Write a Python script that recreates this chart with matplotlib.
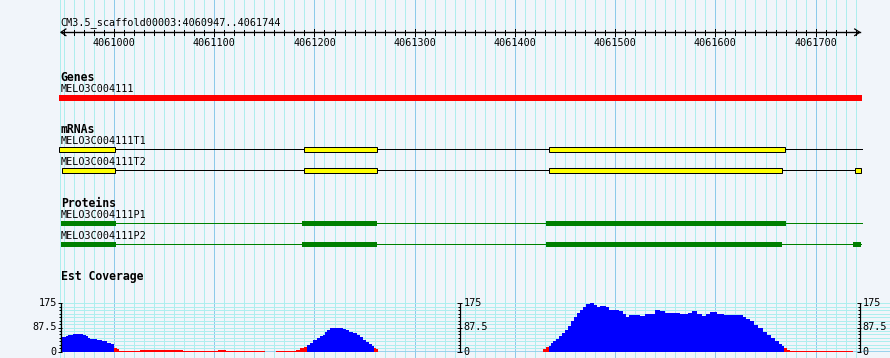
import matplotlib
matplotlib.use("Agg")
import matplotlib.pyplot as plt
from matplotlib.patches import Rectangle
import numpy as np

# ---- data ----
ref_name = "CM3.5_scaffold00003"
view_start, view_end = 4060947, 4061744
ruler_labels = [4061000, 4061100, 4061200, 4061300, 4061400, 4061500, 4061600, 4061700]

gene_name = "MELO3C004111"
gene_span = (4060945, 4061746)

mrna_names = ["MELO3C004111T1", "MELO3C004111T2"]
mrna_spans = [(4060945, 4061746), (4060948, 4061745)]
mrna_exons = [
    [(4060945, 4061001), (4061190, 4061262), (4061434, 4061669)],
    [(4060948, 4061001), (4061190, 4061262), (4061434, 4061666), (4061739, 4061745)],
]

protein_names = ["MELO3C004111P1", "MELO3C004111P2"]
protein_spans = [(4060947, 4061746), (4060947, 4061745)]
protein_cds = [
    [(4060947, 4061002), (4061188, 4061262), (4061431, 4061670)],
    [(4060947, 4061002), (4061188, 4061262), (4061431, 4061666), (4061737, 4061745)],
]

# est coverage, step edges and values (0 = no data)
cov_edges = [4060947, 4060952, 4060954, 4060959, 4060969, 4060972, 4060974, 4060976,
             4060983, 4060988, 4060993, 4060997, 4061000, 4061003, 4061005, 4061026,
             4061069, 4061104, 4061112, 4061151, 4061162, 4061182, 4061186, 4061190,
             4061193, 4061196, 4061199, 4061203, 4061206, 4061209, 4061211, 4061213,
             4061216, 4061219, 4061228, 4061231, 4061234, 4061238, 4061242, 4061245,
             4061248, 4061251, 4061254, 4061257, 4061259, 4061261, 4061263,
             4061428, 4061431, 4061434, 4061436, 4061438, 4061441, 4061444, 4061447,
             4061450, 4061453, 4061456, 4061459, 4061462, 4061465, 4061468, 4061471,
             4061475, 4061479, 4061482, 4061485, 4061488, 4061491, 4061494, 4061499,
             4061504, 4061508, 4061511, 4061514, 4061519, 4061525, 4061530, 4061536,
             4061540, 4061545, 4061550, 4061557, 4061565, 4061573, 4061577, 4061582,
             4061587, 4061591, 4061595, 4061602, 4061609, 4061616, 4061623, 4061628,
             4061631, 4061635, 4061639, 4061643, 4061647, 4061651, 4061655, 4061659,
             4061663, 4061666, 4061668, 4061671, 4061674, 4061737]
cov_vals = [52, 58, 61, 64, 61, 55, 49, 45, 42, 37, 33, 29, 14, 10, 4, 7, 4, 7, 4, 0,
            4, 7, 13, 18,
            26, 32, 42, 48, 55, 62, 71, 80, 84, 86, 82, 77, 72, 67, 60, 52, 44, 36,
            28, 22, 12, 8,
            0,
            8, 16, 22, 30, 38, 46, 56, 66, 77, 92, 110, 125, 140, 152, 162, 172, 175,
            169, 161, 164, 166, 160, 152, 151, 146, 138, 126, 133, 134, 129, 136, 137,
            149, 146, 141, 140, 136, 140, 146, 138, 130, 136, 143, 138, 134, 131, 133,
            125, 118, 111, 98, 86, 72, 60, 48, 38, 28, 21, 12, 6, 3]
cov_max = 175
cov_low = 20

# ---- style ----
bg = "#F1F5FA"
grid_minor = "#AEEEEE"
grid_major = "#8CCBEA"
px = 0.72  # one pixel line width at 100 dpi
mono = "DejaVu Sans Mono"
fs = 7.3
fsb = 8.3

fig = plt.figure(figsize=(8.9, 3.58), dpi=100, facecolor=bg)
ax = fig.add_axes([0, 0, 1, 1])
ax.set_facecolor(bg)
xl = (4060886.27, 4061774.2)
ax.set_xlim(xl)
ax.set_ylim(358, 0)
ax.axis("off")

# vertical grid
ax.axvline(view_start - 1, color=grid_minor, lw=px, zorder=0)
for g in range(4060950, view_end + 1, 10):
    ax.axvline(g, color=grid_major if g % 100 == 0 else grid_minor, lw=px, zorder=0)

# ruler
ry = 32.3
ax.plot([view_start, view_end], [ry, ry], color="black", lw=1.0)
ax.plot([view_start + 5, view_start, view_start + 5], [ry - 3.3, ry, ry + 3.3], color="black", lw=0.9)
ax.plot([view_end - 5, view_end, view_end - 5], [ry - 3.3, ry, ry + 3.3], color="black", lw=0.9)
for g in range(4060950, view_end + 1, 10):
    if g % 100 == 0:
        ax.plot([g, g], [ry - 3.5, ry + 4], color="black", lw=px)
    else:
        ax.plot([g, g], [ry - 2.5, ry + 2.5], color="black", lw=px)
for g in ruler_labels:
    ax.text(g, 46.3, str(g), ha="center", va="baseline", fontsize=fs, family=mono)
ax.text(view_start, 24.8, f"{ref_name}:{view_start}..{view_end}", ha="left",
        va="baseline", fontsize=fs, family=mono)

# genes
ax.text(view_start, 80.8, "Genes", fontsize=fsb, weight="bold", family=mono, va="baseline")
ax.text(view_start, 92.3, gene_name, fontsize=fs, family=mono, va="baseline")
ax.add_patch(Rectangle((gene_span[0], 95), gene_span[1] - gene_span[0], 5.8,
                       facecolor="#FF0000", edgecolor="none", zorder=3))

# mRNAs
ax.text(view_start, 132.7, "mRNAs", fontsize=fsb, weight="bold", family=mono, va="baseline")
for name, span, exons, ly, yl in zip(mrna_names, mrna_spans, mrna_exons, [149.3, 170.3], [144.3, 165.0]):
    ax.text(view_start, yl, name, fontsize=fs, family=mono, va="baseline")
    ax.plot(span, [ly, ly], color="black", lw=px, zorder=2)
    for s, e in exons:
        ax.add_patch(Rectangle((s, ly - 2.3), e - s, 4.6, facecolor="#FFFF00",
                               edgecolor="black", lw=px, zorder=3))

# proteins
ax.text(view_start, 206.7, "Proteins", fontsize=fsb, weight="bold", family=mono, va="baseline")
for name, span, cds, ly, yl in zip(protein_names, protein_spans, protein_cds, [223.3, 244.3], [218.3, 239.3]):
    ax.text(view_start, yl, name, fontsize=fs, family=mono, va="baseline")
    ax.plot(span, [ly, ly], color="#008000", lw=px, zorder=2)
    for s, e in cds:
        ax.add_patch(Rectangle((s, ly - 2.8), e - s, 5.8, facecolor="#008000",
                               edgecolor="none", zorder=3))

# est coverage
ax.text(view_start, 280.0, "Est Coverage", fontsize=fsb, weight="bold", family=mono, va="baseline")

cx = fig.add_axes([0, 6.3 / 358, 1, 48.4 / 358])
cx.set_xlim(xl)
cx.set_ylim(0, cov_max)
cx.axis("off")
cx.patch.set_alpha(0)
for v in np.arange(12.5, cov_max + 0.1, 12.5):
    cx.hlines(v, view_start, xl[1], color=grid_minor, lw=px, zorder=1)
cx.hlines(0, view_start, xl[1], color=grid_major, lw=1.2, zorder=1)

vals = np.array(cov_vals, dtype=float)
low = vals < cov_low
cx.stairs(np.where(low, vals, 0), cov_edges, fill=True, color="#FF0000", zorder=2)
cx.stairs(np.where(low, 0, vals), cov_edges, fill=True, color="#0000FF", zorder=2)

axis_pos = [view_start, (view_start + view_end) / 2, view_end]
for i, xa in enumerate(axis_pos):
    cx.vlines(xa, 0, cov_max, color="black", lw=0.9, zorder=4, clip_on=False)
    for v in np.arange(0, cov_max + 0.1, 12.5):
        major = v in (0, 87.5, 175)
        x0 = xa - (3 if major else 2.2)
        x1 = xa + (1.5 if major else 0)
        cx.hlines(v, x0, x1, color="black", lw=px, zorder=4, clip_on=False)
    for v, lab in [(0, "0"), (87.5, "87.5"), (175, "175")]:
        if i == 0:
            cx.text(xa - 4, v, lab, ha="right", va="center", fontsize=fs, family=mono)
        else:
            cx.text(xa + 3, v, lab, ha="left", va="center", fontsize=fs, family=mono)

fig.savefig("out.png", dpi=100, facecolor=bg)
